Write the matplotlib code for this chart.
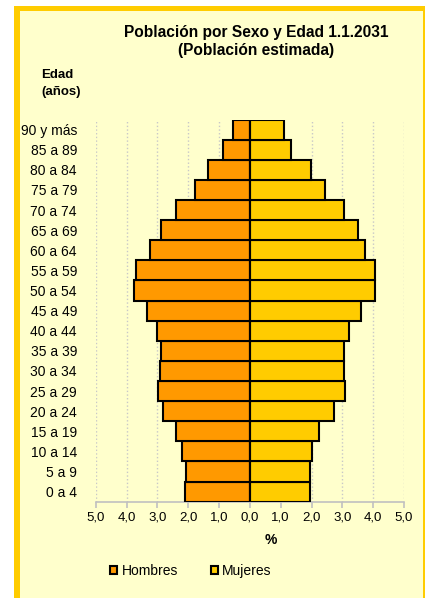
import matplotlib
matplotlib.use('Agg')
import matplotlib.pyplot as plt
from matplotlib.patches import Rectangle, Patch

plt.rcParams['font.family'] = ['Liberation Sans', 'DejaVu Sans']

# age groups, bottom to top
grupos = ['0 a 4', '5 a 9', '10 a 14', '15 a 19', '20 a 24', '25 a 29', '30 a 34',
          '35 a 39', '40 a 44', '45 a 49', '50 a 54', '55 a 59', '60 a 64',
          '65 a 69', '70 a 74', '75 a 79', '80 a 84', '85 a 89', '90 y más']
hombres = [2.11, 2.08, 2.21, 2.41, 2.81, 2.97, 2.92, 2.89, 3.00, 3.33,
           3.77, 3.70, 3.25, 2.89, 2.38, 1.78, 1.37, 0.86, 0.54]
mujeres = [1.96, 1.94, 2.03, 2.25, 2.72, 3.09, 3.06, 3.05, 3.21, 3.59,
           4.05, 4.06, 3.74, 3.52, 3.06, 2.43, 1.98, 1.35, 1.11]
xticks = [-5, -4, -3, -2, -1, 0, 1, 2, 3, 4, 5]
xlabels = ['5,0', '4,0', '3,0', '2,0', '1,0', '0,0', '1,0', '2,0', '3,0', '4,0', '5,0']

COL_H = '#FF9900'
COL_M = '#FFCC00'
BG = '#FFFFCC'

W, H = 425, 598
fig = plt.figure(figsize=(W / 100, H / 100), dpi=100, facecolor='white')

# frame: thick yellow border on left/top, thin on right, light yellow inside
fig.patches.append(Rectangle((14 / W, 0), (W - 14) / W, (H - 6) / H,
                             transform=fig.transFigure, facecolor=COL_M,
                             edgecolor='none', zorder=-2))
fig.patches.append(Rectangle((20 / W, 0), (423 - 20) / W, (H - 11) / H,
                             transform=fig.transFigure, facecolor=BG,
                             edgecolor='none', zorder=-1))

ax = fig.add_axes([95.7 / W, 1 - 501.7 / H, (404 - 95.7) / W, (501.7 - 119.5) / H])
ax.set_facecolor('none')

y = list(range(len(grupos)))
ax.barh(y, [-v for v in hombres], height=1, color=COL_H, edgecolor='black',
        linewidth=1.5, zorder=3)
ax.barh(y, mujeres, height=1, color=COL_M, edgecolor='black',
        linewidth=1.5, zorder=3)
ax.axvline(0, color='black', linewidth=1.5, zorder=4)

ax.set_xlim(-5, 5)
ax.set_ylim(-0.5, len(grupos) - 0.5)
ax.set_xticks(xticks)
ax.set_xticklabels(xlabels, fontsize=9.5)
ax.set_yticks(y)
ax.set_yticklabels(grupos, fontsize=10)

for s in ['top', 'right', 'left']:
    ax.spines[s].set_visible(False)
ax.spines['bottom'].set_color('#C0C0C0')
ax.spines['bottom'].set_linewidth(1.2)
ax.tick_params(axis='y', length=0, pad=13.5)
ax.tick_params(axis='x', length=4, color='#C0C0C0', width=1.2, pad=3)
ax.xaxis.grid(True, linestyle=':', color='#C8C8C8', linewidth=1, zorder=0)
ax.set_axisbelow(True)

fig.text(256 / W, 1 - 32 / H, 'Población por Sexo y Edad 1.1.2031',
         ha='center', va='center', fontsize=11.2, fontweight='bold')
fig.text(256 / W, 1 - 50 / H, '(Población estimada)',
         ha='center', va='center', fontsize=11.2, fontweight='bold')
fig.text(41 / W, 1 - 75 / H, 'Edad', ha='left', va='center',
         fontsize=9.5, fontweight='bold')
fig.text(41 / W, 1 - 92 / H, '(años)', ha='left', va='center',
         fontsize=9.5, fontweight='bold')
fig.text(271 / W, 1 - 540 / H, '%', ha='center', va='center',
         fontsize=10, fontweight='bold')

handles = [Patch(facecolor=COL_H, edgecolor='black', linewidth=1.5),
           Patch(facecolor=COL_M, edgecolor='black', linewidth=1.5)]
fig.legend(handles, ['Hombres', 'Mujeres'], loc='center',
           bbox_to_anchor=(191 / W, 1 - 571 / H), ncol=2, frameon=False,
           fontsize=10, handlelength=0.5, handleheight=0.5,
           handletextpad=0.3, columnspacing=2.4)

fig.savefig('out.png', dpi=100, facecolor='white')
